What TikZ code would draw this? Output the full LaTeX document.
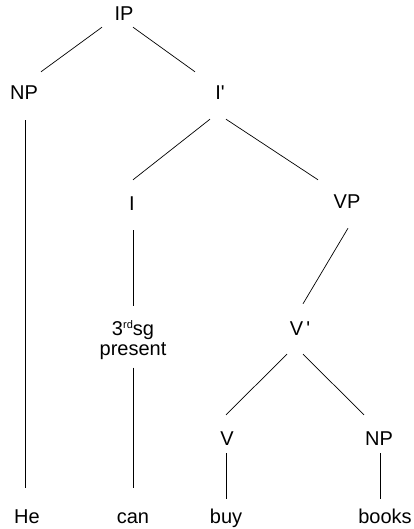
\documentclass[tikz,border=0pt]{standalone}
\usepackage{fontspec}
\setmainfont{Liberation Sans}

\tikzset{
  cat/.style={anchor=base, inner sep=0pt, text height=14pt, text depth=0pt,
    font=\fontsize{20}{22}\selectfont},
  branch/.style={line width=0.7pt},
}

\begin{document}
\begin{tikzpicture}[x=1pt,y=-1pt]
\useasboundingbox (0,0) rectangle (414,529);

%Category labels of the tree
\node[cat] (IP)   at (124,21)  {IP};
\node[cat] (NP)   at (24,100)  {NP};
\node[cat] (Ibar) at (220,100) {I\textquotesingle};
\node[cat] (I)    at (132,211) {I};
\node[cat] (VP)   at (347,208) {VP};
\node[anchor=north, inner sep=0pt, align=center, font=\fontsize{20}{20}\selectfont]
  (agr) at (133,320) {3\raisebox{7pt}{\fontsize{11}{11}\selectfont rd}sg\\present};
\node[cat] (Vbar) at (300,335) {V\,\textquotesingle};
\node[cat] (V)    at (227,445) {V};
\node[cat] (NPo)  at (379,445) {NP};

%Words at the bottom
\node[cat] (He)    at (27,523)  {He};
\node[cat] (can)   at (133,523) {can};
\node[cat] (buy)   at (226,523) {buy};
\node[cat] (books) at (385,523) {books};

% Branches
\draw[branch] ([shift={(-22,6)}]IP.south) -- ([shift={(17,-14)}]NP.north);
\draw[branch] ([shift={(9,6)}]IP.south) -- ([shift={(-25,-14)}]Ibar.north);
\draw[branch] ([shift={(1,20)}]NP.south) -- ([shift={(-2,-21)}]He.north);
\draw[branch] ([shift={(-10,19)}]Ibar.south) -- ([shift={(1,-17)}]I.north);
\draw[branch] ([shift={(6,19)}]Ibar.south) -- ([shift={(-29,-14)}]VP.north);
\draw[branch] ([shift={(1,19)}]I.south) -- ([shift={(0,-14)}]agr.north);
\draw[branch] ([shift={(0,8)}]agr.south) -- ([shift={(0,-21)}]can.north);
\draw[branch] ([shift={(1,20)}]VP.south) -- ([shift={(3,-17)}]Vbar.north);
\draw[branch] ([shift={(-13,19)}]Vbar.south) -- ([shift={(-1,-16)}]V.north);
\draw[branch] ([shift={(3,19)}]Vbar.south) -- ([shift={(-15,-16)}]NPo.north);
\draw[branch] ([shift={(-1,8)}]V.south) -- ([shift={(0,-10)}]buy.north);
\draw[branch] ([shift={(1,8)}]NPo.south) -- ([shift={(-5,-10)}]books.north);

\end{tikzpicture}
\end{document}
